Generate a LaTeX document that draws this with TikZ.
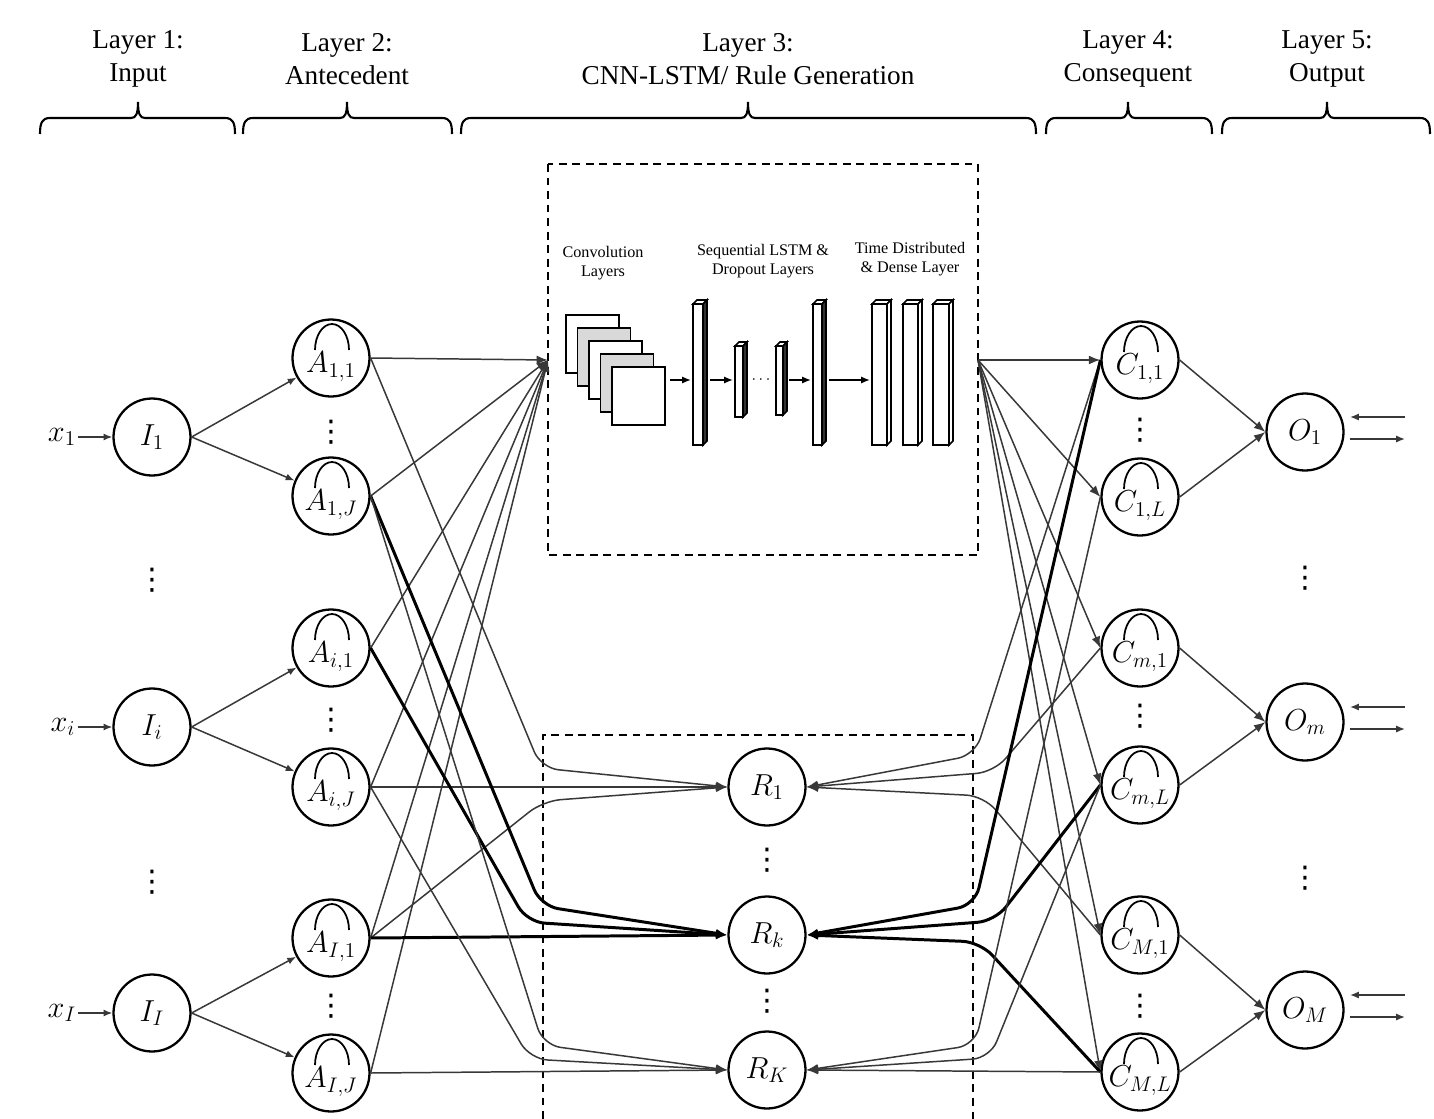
\documentclass[tikz,border=0pt]{standalone}
\usepackage{fontspec}
\setmainfont{Liberation Serif}
\newfontfamily\titleface{Liberation Serif}
\newfontfamily\symface{DejaVu Sans}
\usetikzlibrary{arrows.meta}

% a 3D-looking layer bar: left, top, right, bottom, fill of the side face
\newcommand\cnnbar[5]{%
  \draw[line width=0.9pt,fill=white] (#1,#2+4) rectangle (#3-4,#4);
  \draw[line width=0.9pt,fill=white] (#1,#2+4) -- (#1+4,#2) -- (#3,#2) -- (#3-4,#2+4) -- cycle;
  \draw[line width=0.9pt,fill=#5] (#3-4,#2+4) -- (#3,#2) -- (#3,#4-4) -- (#3-4,#4) -- cycle;
}
% curly brace under a layer title: left end, tip, right end
\newcommand\layerbrace[3]{%
  \draw[line width=1.2pt] (#1,134) .. controls (#1,123) and (#1+2,118) .. (#1+10,118)
    -- (#2-7,118) .. controls (#2-2,118) and (#2,114) .. (#2,102)
    .. controls (#2,114) and (#2+2,118) .. (#2+7,118)
    -- (#3-10,118) .. controls (#3-2,118) and (#3,123) .. (#3,134);
}

\begin{document}
\begin{tikzpicture}[x=0.02cm,y=-0.02cm,
  neuron/.style={circle,draw=black,line width=1.3pt,minimum size=1.54cm,inner sep=0pt,
    fill=white,font=\fontsize{17}{19}\selectfont},
  hatneuron/.style={neuron,text height=21pt,text depth=4pt},
  wire/.style={draw=black!78,line width=0.85pt},
  boldwire/.style={draw=black,line width=1.7pt},
  arrowtip/.style={-{Latex[length=6.5pt,width=5pt]}},
  smalltip/.style={-{Latex[length=5pt,width=4pt]}},
  roundbend/.style={rounded corners=10pt},
  dashbox/.style={draw=black,line width=1.1pt,dash pattern=on 4.5pt off 3.2pt},
  hdr/.style={font=\titleface\fontsize{15.5}{18.7}\selectfont,align=center,inner sep=0pt},
  cnnlabel/.style={font=\titleface\fontsize{9.2}{11}\selectfont,align=center,inner sep=0pt},
  vdotsnode/.style={font=\symface\fontsize{17}{19}\selectfont,inner sep=0pt},
  xlabel/.style={font=\fontsize{17}{19}\selectfont,inner sep=1pt}]

\useasboundingbox (0,0) rectangle (1434,1119);
\fill[white] (0,0) rectangle (1434,1119);

% ---------- layer titles ----------
\node[hdr] (L1) at (138,59) {Layer 1:\\Input};
\node[hdr] (L2) at (347,59) {Layer 2:\\Antecedent};
\node[hdr] (L3) at (748,59) {Layer 3:\\CNN-LSTM/ Rule Generation};
\node[hdr] (L4) at (1128,59) {Layer 4:\\Consequent};
\node[hdr] (L5) at (1327,59) {Layer 5:\\Output};
\layerbrace{40}{138}{235}
\layerbrace{243}{347}{452}
\layerbrace{461}{748}{1036}
\layerbrace{1046}{1128}{1212}
\layerbrace{1222}{1327}{1430}

% ---------- dashed frames ----------
\draw[dashbox] (548,164) rectangle (978,555);
\draw[dashbox] (543,1119) -- (543,735) -- (973,735) -- (973,1119);
\coordinate (cnnL) at (548,360);
\coordinate (cnnR) at (978,360);

% ---------- CNN-LSTM block ----------
\node[cnnlabel] (convlab) at (603,263) {Convolution\\Layers};
\node[cnnlabel] (lstmlab) at (763,261) {Sequential LSTM \&\\Dropout Layers};
\node[cnnlabel] (denselab) at (910,259) {Time Distributed\\\& Dense Layer};
\foreach \dx/\dy/\col in {0/0/white,11.5/13/black!15,23/26/white,34.5/39/black!15,46/52/white}
  \draw[line width=1.1pt,fill=\col] (566+\dx,315+\dy) rectangle ++(53,58);
\cnnbar{693}{300}{707}{445}{black!80}
\cnnbar{735}{342}{747}{417}{black!80}
\cnnbar{776}{342}{787}{415}{black!80}
\cnnbar{813}{300}{826}{445}{black!80}
\cnnbar{872}{300}{891}{445}{white}
\cnnbar{903}{300}{922}{445}{white}
\cnnbar{933}{300}{953}{445}{white}
\node[font=\fontsize{9}{10}\selectfont,inner sep=0pt] (lstmdots) at (761,380) {$\cdots$};
\coordinate (ca1) at (670,380); \coordinate (ca2) at (691,380);
\coordinate (cb1) at (710,380); \coordinate (cb2) at (733,380);
\coordinate (cc1) at (789,380); \coordinate (cc2) at (811,380);
\coordinate (cd1) at (829,380); \coordinate (cd2) at (870,380);
\foreach \a/\b in {ca1/ca2,cb1/cb2,cc1/cc2,cd1/cd2}
  \draw[line width=0.9pt,smalltip] (\a) -- (\b);

% ---------- layer 1: inputs ----------
\node[neuron] (I1) at (152,437) {$I_1$};
\node[neuron] (Ii) at (152,727) {$I_i$};
\node[neuron] (II) at (152,1013) {$I_I$};
\node[xlabel] (x1) at (62,437) {$x_1$};
\node[xlabel] (xi) at (63,727) {$x_i$};
\node[xlabel] (xI) at (62,1013) {$x_I$};
\node[vdotsnode] (vI1) at (152,580) {⋮};
\node[vdotsnode] (vI2) at (152,882) {⋮};

% ---------- layer 2: antecedents ----------
\node[hatneuron] (A11) at (331,358) {$A_{1,1}$};
\node[hatneuron] (A1J) at (331,496) {$A_{1,J}$};
\node[hatneuron] (Ai1) at (331,648) {$A_{i,1}$};
\node[hatneuron] (AiJ) at (331,787) {$A_{i,J}$};
\node[hatneuron] (AI1) at (331,938) {$A_{I,1}$};
\node[hatneuron] (AIJ) at (331,1073) {$A_{I,J}$};
\node[vdotsnode] (vA1) at (331,432) {⋮};
\node[vdotsnode] (vA2) at (331,720) {⋮};
\node[vdotsnode] (vA3) at (331,1006) {⋮};

% ---------- layer 3: rules ----------
\node[neuron] (R1) at (767,787) {$R_1$};
\node[neuron] (Rk) at (767,935) {$R_k$};
\node[neuron] (RK) at (767,1070) {$R_K$};
\node[vdotsnode] (vR1) at (767,860) {⋮};
\node[vdotsnode] (vR2) at (767,1001) {⋮};

% ---------- layer 4: consequents ----------
\node[hatneuron] (C11) at (1140,360) {$C_{1,1}$};
\node[hatneuron] (C1L) at (1140,497) {$C_{1,L}$};
\node[hatneuron] (Cm1) at (1140,648) {$C_{m,1}$};
\node[hatneuron] (CmL) at (1140,785) {$C_{m,L}$};
\node[hatneuron] (CM1) at (1140,935) {$C_{M,1}$};
\node[hatneuron] (CML) at (1140,1072) {$C_{M,L}$};
\node[vdotsnode] (vC1) at (1140,430) {⋮};
\node[vdotsnode] (vC2) at (1140,716) {⋮};
\node[vdotsnode] (vC3) at (1140,1006) {⋮};

% ---------- layer 5: outputs ----------
\node[neuron] (O1) at (1305,432) {$O_1$};
\node[neuron] (Om) at (1305,722) {$O_m$};
\node[neuron] (OM) at (1305,1010) {$O_M$};
\node[vdotsnode] (vO1) at (1305,578) {⋮};
\node[vdotsnode] (vO2) at (1305,878) {⋮};

% membership arcs inside antecedent and consequent neurons
\foreach \n in {A11,A1J,Ai1,AiJ,AI1,AIJ,C11,C1L,Cm1,CmL,CM1,CML}
  \draw[line width=1pt] ([xshift=-0.32cm,yshift=0.16cm]\n.center)
    arc[start angle=180,end angle=0,x radius=0.34cm,y radius=0.52cm];

% ---------- inputs to antecedents ----------
\draw[wire,smalltip] (x1) -- (I1);
\draw[wire,smalltip] (xi) -- (Ii);
\draw[wire,smalltip] (xI) -- (II);
\draw[wire,smalltip] (I1.east) -- (A11);
\draw[wire,smalltip] (I1.east) -- (A1J);
\draw[wire,smalltip] (Ii.east) -- (Ai1);
\draw[wire,smalltip] (Ii.east) -- (AiJ);
\draw[wire,smalltip] (II.east) -- (AI1);
\draw[wire,smalltip] (II.east) -- (AIJ);

% ---------- antecedents into the CNN-LSTM block ----------
\foreach \n in {A11,A1J,Ai1,AiJ,AI1,AIJ}
  \draw[wire,arrowtip] (\n.east) -- (cnnL);

% ---------- antecedents into the rules ----------
\draw[wire,arrowtip,roundbend] (A11.east) -- (541,768) -- (R1.west);
\draw[wire,arrowtip] (AiJ.east) -- (R1.west);
\draw[wire,arrowtip,roundbend] (AI1.east) -- (543,801) -- (R1.west);
\draw[boldwire,arrowtip,roundbend] (A1J.east) -- (541,906) -- (Rk.west);
\draw[boldwire,arrowtip,roundbend] (Ai1.east) -- (527,922) -- (Rk.west);
\draw[boldwire,arrowtip] (AI1.east) -- (Rk.west);
\draw[wire,arrowtip,roundbend] (A1J.east) -- (543,1045) -- (RK.west);
\draw[wire,arrowtip,roundbend] (AiJ.east) -- (530,1059) -- (RK.west);
\draw[wire,arrowtip] (AIJ.east) -- (RK.west);

% ---------- CNN-LSTM block to consequents ----------
\foreach \n in {C11,C1L,Cm1,CmL,CM1,CML}
  \draw[wire,arrowtip] (cnnR) -- (\n.west);

% ---------- consequents into the rules ----------
\draw[wire,arrowtip,roundbend] (C11.west) -- (975,755) -- (R1.east);
\draw[wire,arrowtip,roundbend] (Cm1.west) -- (994,772) -- (R1.east);
\draw[wire,arrowtip,roundbend] (CM1.west) -- (984,796) -- (R1.east);
\draw[boldwire,arrowtip,roundbend] (C11.west) -- (975,905) -- (Rk.east);
\draw[boldwire,arrowtip,roundbend] (CmL.west) -- (995,921) -- (Rk.east);
\draw[boldwire,arrowtip,roundbend] (CML.west) -- (980,942) -- (Rk.east);
\draw[wire,arrowtip,roundbend] (C1L.west) -- (975,1045) -- (RK.east);
\draw[wire,arrowtip,roundbend] (CmL.west) -- (990,1058) -- (RK.east);
\draw[wire,arrowtip] (CML.west) -- (RK.east);

% ---------- consequents to outputs ----------
\draw[wire,arrowtip] (C11.east) -- (O1.west);
\draw[wire,arrowtip] (C1L.east) -- (O1.west);
\draw[wire,arrowtip] (Cm1.east) -- (Om.west);
\draw[wire,arrowtip] (CmL.east) -- (Om.west);
\draw[wire,arrowtip] (CM1.east) -- (OM.west);
\draw[wire,arrowtip] (CML.east) -- (OM.west);

% ---------- output feedback arrows ----------
\foreach \o/\y in {O1/432,Om/722,OM/1010}{
  \coordinate (\o ina) at (1405,\y-15);
  \coordinate (\o inb) at (1350,\y-15);
  \coordinate (\o outa) at (1350,\y+7);
  \coordinate (\o outb) at (1405,\y+7);
  \draw[wire,smalltip] (\o ina) -- (\o inb);
  \draw[wire,smalltip] (\o outa) -- (\o outb);
}
\end{tikzpicture}
\end{document}
